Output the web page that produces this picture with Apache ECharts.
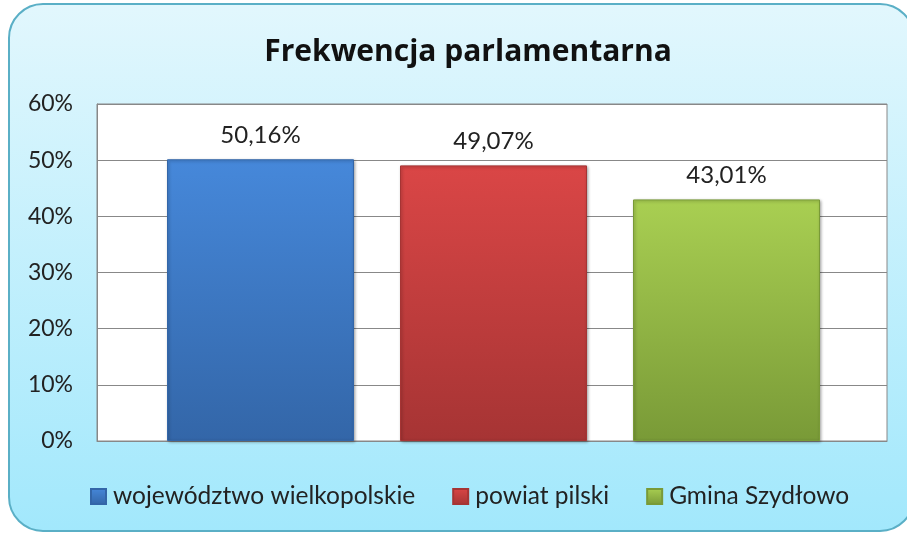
<!DOCTYPE html>
<html>
<head>
<meta charset="utf-8">
<script src="https://cdn.jsdelivr.net/npm/echarts@6/dist/echarts.min.js"></script>
<style>
  html, body { margin: 0; padding: 0; background: #fff; }
  #chart { width: 907px; height: 535px; }
</style>
</head>
<body>
<div id="chart"></div>
<script>
const regions = ['województwo wielkopolskie', 'powiat pilski', 'Gmina Szydłowo']
const turnout = [50.16, 49.07, 43.01]
const yTicks = [0, 10, 20, 30, 40, 50, 60]
const palette = [
  ['#4688da', '#3366a8'],
  ['#da4646', '#a63434'],
  ['#a9cf52', '#799a37']
]

const font = 'Lato, "Open Sans", sans-serif'
const chart = echarts.init(document.getElementById('chart'))

// bars sit in a narrower grid than the white plot area, like the original
const series = regions.map((name, i) => ({
  name: name,
  type: 'bar',
  xAxisIndex: 1,
  yAxisIndex: 1,
  barWidth: 187,
  barGap: '-100%',
  data: turnout.map((v, j) => (j === i ? v : null)),
  itemStyle: {
    color: new echarts.graphic.LinearGradient(0, 0, 0, 1, [
      { offset: 0, color: palette[i][0] },
      { offset: 1, color: palette[i][1] }
    ]),
    borderColor: palette[i][1],
    borderWidth: 1,
    shadowColor: 'rgba(0,0,0,0.35)',
    shadowBlur: 3,
    shadowOffsetX: 1,
    shadowOffsetY: 1
  },
  label: {
    show: true,
    position: 'top',
    distance: 12,
    color: '#222',
    fontFamily: font,
    fontSize: 24,
    formatter: p => p.value.toFixed(2).replace('.', ',') + '%'
  }
}))

chart.setOption({
  animation: false,
  color: palette.map(c => c[0]),
  graphic: [{
    type: 'rect',
    z: -10,
    shape: { x: 9, y: 4, width: 905, height: 527, r: 34 },
    style: {
      fill: new echarts.graphic.LinearGradient(0, 0, 0, 1, [
        { offset: 0, color: '#e2f7fd' },
        { offset: 1, color: '#a2e8fc' }
      ]),
      stroke: '#5aafc6',
      lineWidth: 2
    }
  }],
  title: {
    text: 'Frekwencja parlamentarna',
    left: 463,
    textAlign: 'center',
    top: 32,
    textStyle: { fontFamily: '"Open Sans", sans-serif', fontSize: 30, fontWeight: 'bold', color: '#111' }
  },
  legend: {
    bottom: 21,
    left: 85,
    itemWidth: 15,
    itemHeight: 15,
    itemGap: 37,
    icon: 'rect',
    textStyle: { fontFamily: font, fontSize: 24.5, color: '#222', padding: [0, 0, 0, 2] },
    data: regions
  },
  grid: [
    {
      left: 97, right: 20, top: 104, bottom: 94,
      show: true,
      backgroundColor: '#fff',
      borderColor: '#888',
      borderWidth: 1
    },
    { left: 144, right: 64, top: 104, bottom: 94 }
  ],
  xAxis: [
    {
      type: 'category',
      gridIndex: 0,
      data: regions,
      axisLine: { lineStyle: { color: '#888' } },
      axisTick: { show: false },
      axisLabel: { show: false }
    },
    {
      type: 'category',
      gridIndex: 1,
      data: regions,
      axisLine: { show: false },
      axisTick: { show: false },
      axisLabel: { show: false }
    }
  ],
  yAxis: [
    {
      type: 'value',
      gridIndex: 0,
      min: yTicks[0],
      max: yTicks[yTicks.length - 1],
      interval: 10,
      axisLine: { show: true, lineStyle: { color: '#888' } },
      axisTick: { show: false },
      splitLine: { lineStyle: { color: '#888' } },
      axisLabel: {
        margin: 24,
        fontFamily: font,
        fontSize: 23,
        color: '#222',
        formatter: '{value}%'
      }
    },
    {
      type: 'value',
      gridIndex: 1,
      min: yTicks[0],
      max: yTicks[yTicks.length - 1],
      interval: 10,
      show: false
    }
  ],
  series: series
})
</script>
</body>
</html>
